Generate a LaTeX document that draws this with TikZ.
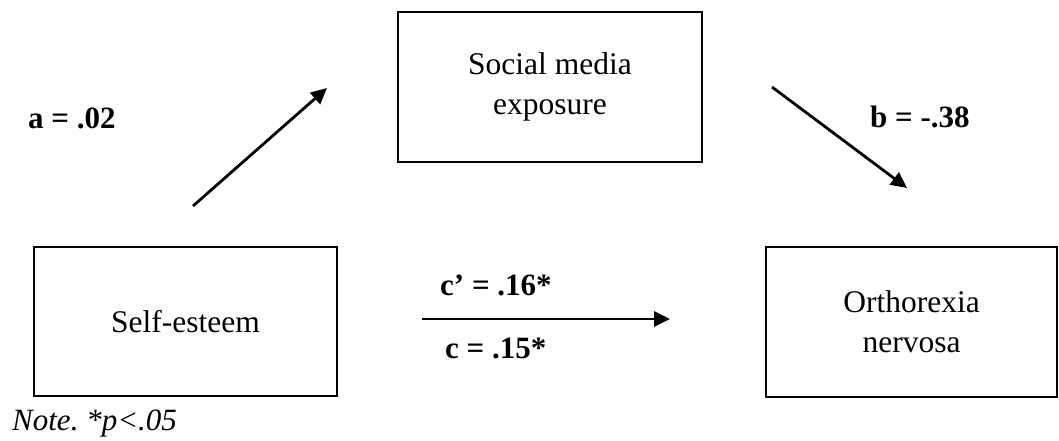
\documentclass[tikz,border=0pt]{standalone}
\usepackage{fontspec}
\setmainfont{Liberation Serif}
\usetikzlibrary{arrows.meta}

\begin{document}
\begin{tikzpicture}[x=1pt,y=-1pt,
  box/.style={draw, line width=1.6pt, minimum width=303pt, minimum height=149pt,
    align=center, inner sep=0pt, font=\fontsize{31.5}{40}\selectfont},
  lbl/.style={anchor=base west, inner sep=0pt, font=\fontsize{31}{37}\selectfont\bfseries},
  arr/.style={line width=2.8pt, -{Triangle[length=16pt,width=15pt]}}]
  \useasboundingbox (0,0) rectangle (1059,440);

  % Boxes
  \node[box] (self) at (185.5,321.5) {Self-esteem};
  \node[box, minimum width=304pt, minimum height=150pt] (media) at (550,87) {Social media\\exposure};
  \node[box, minimum width=291pt, minimum height=150pt] (ortho) at (911.5,322) {Orthorexia\\nervosa};

  % Paths
  \coordinate (a1) at (193,206);
  \coordinate (a2) at (327,88);
  \coordinate (b1) at (772,87);
  \coordinate (b2) at (907,188);
  \coordinate (c1) at (422,319);
  \coordinate (c2) at (670,319);
  \draw[arr] (a1) -- (a2);
  \draw[arr] (b1) -- (b2);
  \draw[arr] (c1) -- (c2);

  % Coefficients
  \node[lbl] (alab) at (28,128) {a = .02};
  \node[lbl] (blab) at (870,127) {b = -.38};
  \node[lbl] (cplab) at (440,295) {c’ = .16*};
  \node[lbl] (clab) at (445,358) {c = .15*};

  \node[anchor=base west, inner sep=0pt, font=\fontsize{31}{37}\selectfont\itshape] (note) at (12,430) {Note.\ *p<.05};
\end{tikzpicture}
\end{document}
